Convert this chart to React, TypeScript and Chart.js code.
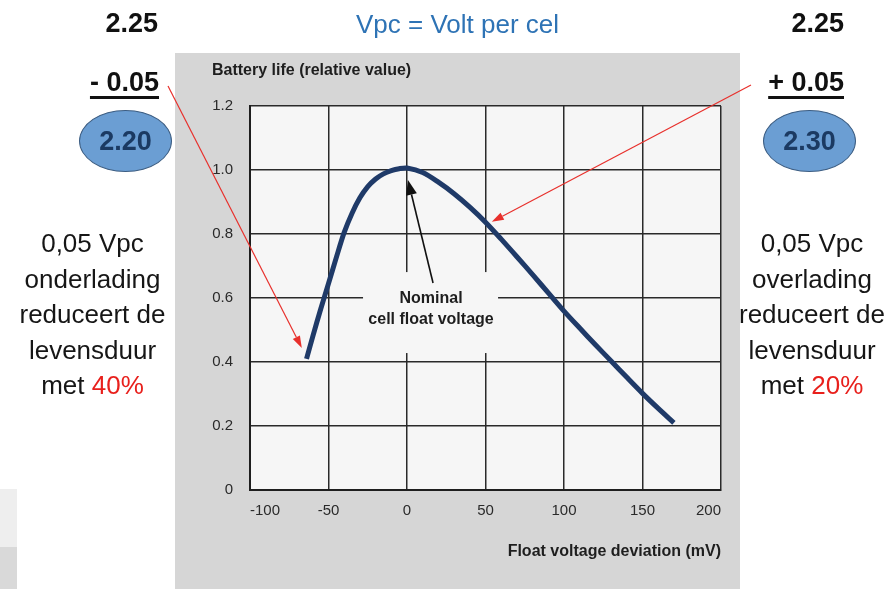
import React, { useEffect, useRef } from 'react';
import { Chart, registerables } from 'chart.js';

Chart.register(...registerables);

// ---- data ----
const deviationMv = [-64, -60, -55, -50, -45, -40, -35, -30, -25, -20, -15, -10, -5, 0, 10, 20, 30, 40, 50, 60, 70, 80, 90, 100, 110, 120, 130, 140, 150, 160, 170];
const batteryLife = [0.41, 0.48, 0.565, 0.645, 0.727, 0.805, 0.865, 0.913, 0.948, 0.972, 0.988, 0.998, 1.004, 1.006, 0.992, 0.962, 0.926, 0.884, 0.837, 0.784, 0.729, 0.673, 0.616, 0.559, 0.506, 0.454, 0.403, 0.352, 0.302, 0.255, 0.21];
const xTickValues = [-100, -50, 0, 50, 100, 150, 200];
const yTickValues = [0, 0.2, 0.4, 0.6, 0.8, 1.0, 1.2];

const xAxisTitle = 'Float voltage deviation (mV)';
const yAxisTitle = 'Battery life (relative value)';
const headerText = 'Vpc = Volt per cel';
const nominalLines = ['Nominal', 'cell float voltage'];

// annotation anchors in data units
const nominalBoxX = [-28, 58];
const nominalBoxY = [0.428, 0.681];
const nominalTextAt = [15.3, 0.597, 0.531];
const nominalArrowFrom = [16.6, 0.647];
const nominalArrowTo = [0.6, 0.969];
const underchargeTip = [-67, 0.444];
const overchargeTip = [54, 0.838];

const FONT = '"Liberation Sans", Arial, sans-serif';

function drawArrow(ctx: CanvasRenderingContext2D, x1: number, y1: number, x2: number, y2: number, color: string, lw: number, headLen: number, headW: number) {
  const ang = Math.atan2(y2 - y1, x2 - x1);
  const bx = x2 - Math.cos(ang) * headLen;
  const by = y2 - Math.sin(ang) * headLen;
  ctx.save();
  ctx.strokeStyle = color;
  ctx.fillStyle = color;
  ctx.lineWidth = lw;
  ctx.beginPath();
  ctx.moveTo(x1, y1);
  ctx.lineTo(bx, by);
  ctx.stroke();
  const px = -Math.sin(ang) * headW / 2;
  const py = Math.cos(ang) * headW / 2;
  ctx.beginPath();
  ctx.moveTo(x2, y2);
  ctx.lineTo(bx + px, by + py);
  ctx.lineTo(bx - px, by - py);
  ctx.closePath();
  ctx.fill();
  ctx.restore();
}

const slidePlugin = {
  id: 'slideDecor',
  beforeDraw(chart: any) {
    const { ctx, chartArea } = chart;
    ctx.save();
    ctx.fillStyle = '#d6d6d6';
    ctx.fillRect(175, 53, 565, 536);
    ctx.fillStyle = '#f6f6f6';
    ctx.fillRect(chartArea.left, chartArea.top, chartArea.right - chartArea.left, chartArea.bottom - chartArea.top);
    ctx.restore();
  },
  beforeDatasetsDraw(chart: any) {
    const { ctx, scales } = chart;
    const xs = scales.x, ys = scales.y;
    const bx0 = xs.getPixelForValue(nominalBoxX[0]);
    const bx1 = xs.getPixelForValue(nominalBoxX[1]);
    const by0 = ys.getPixelForValue(nominalBoxY[1]);
    const by1 = ys.getPixelForValue(nominalBoxY[0]);
    ctx.save();
    ctx.fillStyle = '#f6f6f6';
    ctx.fillRect(bx0, by0, bx1 - bx0, by1 - by0);
    ctx.fillStyle = '#1e1e1e';
    ctx.font = `bold 16px ${FONT}`;
    ctx.textAlign = 'center';
    ctx.textBaseline = 'middle';
    const tx = xs.getPixelForValue(nominalTextAt[0]);
    ctx.fillText(nominalLines[0], tx, ys.getPixelForValue(nominalTextAt[1]));
    ctx.fillText(nominalLines[1], tx, ys.getPixelForValue(nominalTextAt[2]));
    ctx.restore();
    drawArrow(ctx,
      xs.getPixelForValue(nominalArrowFrom[0]), ys.getPixelForValue(nominalArrowFrom[1]),
      xs.getPixelForValue(nominalArrowTo[0]), ys.getPixelForValue(nominalArrowTo[1]),
      '#111', 1.6, 15, 11);
  },
  afterDraw(chart: any) {
    const { ctx, scales } = chart;
    const xs = scales.x, ys = scales.y;
    ctx.save();
    ctx.fillStyle = '#1e1e1e';
    ctx.font = `bold 16px ${FONT}`;
    ctx.textAlign = 'left';
    ctx.textBaseline = 'alphabetic';
    ctx.fillText(yAxisTitle, 212, 75);
    ctx.restore();
    drawArrow(ctx, 168, 86, xs.getPixelForValue(underchargeTip[0]), ys.getPixelForValue(underchargeTip[1]), '#e8302c', 1.2, 12, 8);
    drawArrow(ctx, 751, 85, xs.getPixelForValue(overchargeTip[0]), ys.getPixelForValue(overchargeTip[1]), '#e8302c', 1.2, 12, 8);
  },
};

function BatteryChart() {
  const ref = useRef<HTMLCanvasElement | null>(null);
  useEffect(() => {
    if (!ref.current) return;
    const chart = new Chart(ref.current, {
      type: 'line',
      data: {
        datasets: [{
          data: deviationMv.map((x, i) => ({ x, y: batteryLife[i] })),
          borderColor: '#1f3a68',
          borderWidth: 5,
          pointRadius: 0,
          fill: false,
          tension: 0.3,
          borderCapStyle: 'butt',
          borderJoinStyle: 'round',
        }],
      },
      options: {
        animation: false,
        responsive: false,
        devicePixelRatio: 1,
        layout: { padding: { left: 210, right: 164, top: 106, bottom: 19 } },
        plugins: { legend: { display: false }, tooltip: { enabled: false }, title: { display: false } },
        scales: {
          x: {
            type: 'linear',
            min: xTickValues[0],
            max: xTickValues[xTickValues.length - 1],
            afterBuildTicks: (s: any) => { s.ticks = xTickValues.map((v) => ({ value: v })); },
            afterFit: (s: any) => { s.height = 80; },
            grid: { color: '#2a2a2a', lineWidth: 1.5, drawTicks: false },
            border: { display: true, color: '#1e1e1e', width: 2 },
            ticks: {
              padding: 12,
              align: 'inner',
              maxRotation: 0,
              color: '#2a2a2a',
              font: { family: FONT, size: 15 },
              callback: (v: any) => String(v),
            },
            title: {
              display: true,
              text: xAxisTitle,
              align: 'end',
              color: '#1e1e1e',
              font: { family: FONT, size: 16, weight: 'bold' },
              padding: { top: 0, bottom: 8.4 },
            },
          },
          y: {
            type: 'linear',
            min: yTickValues[0],
            max: yTickValues[yTickValues.length - 1],
            afterBuildTicks: (s: any) => { s.ticks = yTickValues.map((v) => ({ value: v })); },
            afterFit: (s: any) => { s.width = 40; },
            grid: { color: '#2a2a2a', lineWidth: 1.5, drawTicks: false },
            border: { display: true, color: '#1e1e1e', width: 2 },
            ticks: {
              padding: 17,
              color: '#2a2a2a',
              font: { family: FONT, size: 15 },
              callback: (v: any) => (v === 0 ? '0' : Number(v).toFixed(1)),
            },
          },
        },
      },
      plugins: [slidePlugin],
    } as any);
    return () => chart.destroy();
  }, []);
  return <canvas ref={ref} width={885} height={589} style={{ position: 'absolute', left: 0, top: 0, width: 885, height: 589 }} />;
}

const abs = (s: React.CSSProperties): React.CSSProperties => ({ position: 'absolute', ...s });

export default function App() {
  useEffect(() => { document.body.style.margin = '0'; }, []);
  const big: React.CSSProperties = { fontFamily: FONT, fontWeight: 'bold', fontSize: 27, lineHeight: '27px', color: '#111', whiteSpace: 'nowrap' };
  const para: React.CSSProperties = { fontFamily: FONT, fontSize: 26, lineHeight: '35.5px', color: '#161616', textAlign: 'center', whiteSpace: 'nowrap', width: 200 };
  const ellipse: React.CSSProperties = {
    width: 93, height: 62, borderRadius: '50%', background: '#6b9ed3', border: '1.5px solid #3c5d82', boxSizing: 'border-box',
    display: 'flex', alignItems: 'center', justifyContent: 'center', fontFamily: FONT, fontWeight: 'bold', fontSize: 27, color: '#1b3a62',
  };
  return (
    <div style={{ position: 'absolute', left: 0, top: 0, width: 885, height: 589, background: '#ffffff', overflow: 'hidden' }}>
      <BatteryChart />
      <div style={abs({ left: 0, top: 489, width: 17, height: 58, background: '#eeeeee' })} />
      <div style={abs({ left: 0, top: 547, width: 17, height: 42, background: '#d9d9d9' })} />
      <div style={abs({ left: 356, top: 11, width: 200, textAlign: 'center', fontFamily: FONT, fontSize: 26, lineHeight: '26px', color: '#2e73b5', whiteSpace: 'nowrap' })}>{headerText}</div>

      <div style={abs({ ...big, right: 885 - 158, top: 10 })}>2.25</div>
      <div style={abs({ ...big, right: 885 - 159, top: 69, textDecoration: 'underline', textDecorationThickness: 3, textUnderlineOffset: 5 })}>- 0.05</div>
      <div style={abs({ ...ellipse, left: 79, top: 110 })}>2.20</div>
      <div style={abs({ ...para, left: 92.5 - 100, top: 226 })}>
        0,05 Vpc<br />onderlading<br />reduceert de<br />levensduur<br />met <span style={{ color: '#e8201c' }}>40%</span>
      </div>

      <div style={abs({ ...big, right: 885 - 844, top: 10 })}>2.25</div>
      <div style={abs({ ...big, right: 885 - 844, top: 69, textDecoration: 'underline', textDecorationThickness: 3, textUnderlineOffset: 5 })}>+ 0.05</div>
      <div style={abs({ ...ellipse, left: 763, top: 110 })}>2.30</div>
      <div style={abs({ ...para, left: 812 - 100, top: 226 })}>
        0,05 Vpc<br />overlading<br />reduceert de<br />levensduur<br />met <span style={{ color: '#e8201c' }}>20%</span>
      </div>
    </div>
  );
}
